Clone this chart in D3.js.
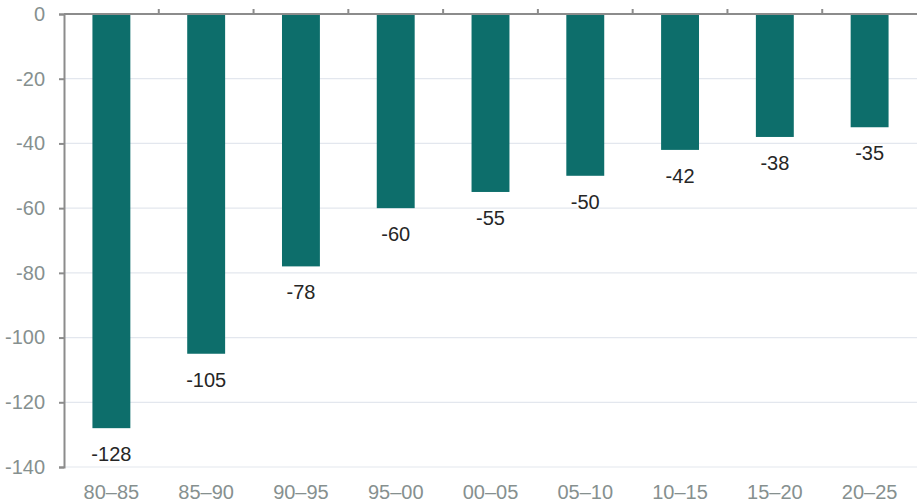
<!DOCTYPE html>
<html>
<head>
<meta charset="utf-8">
<script src="https://cdn.jsdelivr.net/npm/d3@7"></script>
<style>
  html, body { margin: 0; padding: 0; background: #fff; }
  svg { display: block; font-family: "Liberation Sans", Arial, sans-serif; }
</style>
</head>
<body>
<svg id="chart" width="917" height="503"></svg>
<script>
const periods = ["80–85", "85–90", "90–95", "95–00", "00–05", "05–10", "10–15", "15–20", "20–25"];
const values = [-128, -105, -78, -60, -55, -50, -42, -38, -35];
const yTicks = [0, -20, -40, -60, -80, -100, -120, -140];

const svg = d3.select("#chart");
const margin = { top: 14, right: 0, bottom: 36, left: 64 };
const width = 917, height = 503;
const fontSize = 20;

const x = d3.scaleBand()
  .domain(periods)
  .range([margin.left, width - margin.right])
  .paddingInner(0.6)
  .paddingOuter(0.3);

const y = d3.scaleLinear()
  .domain([0, -140])
  .range([margin.top, height - margin.bottom]);

// horizontal gridlines
svg.append("g")
  .selectAll("line")
  .data(yTicks.filter(d => d !== 0))
  .join("line")
  .attr("x1", margin.left)
  .attr("x2", width - margin.right)
  .attr("y1", d => y(d))
  .attr("y2", d => y(d))
  .attr("stroke", "#e3e7ee")
  .attr("stroke-width", 1.2);

// bars
svg.append("g")
  .selectAll("rect")
  .data(values)
  .join("rect")
  .attr("x", (d, i) => x(periods[i]))
  .attr("width", x.bandwidth())
  .attr("y", y(0))
  .attr("height", d => y(d) - y(0))
  .attr("fill", "#0d6e6b");

// value labels under each bar
svg.append("g")
  .selectAll("text")
  .data(values)
  .join("text")
  .attr("x", (d, i) => x(periods[i]) + x.bandwidth() / 2)
  .attr("y", d => y(d) + 33)
  .attr("text-anchor", "middle")
  .attr("font-size", fontSize)
  .attr("fill", "#262626")
  .text(d => String(d));

// y axis
const yAxis = d3.axisLeft(y)
  .tickValues(yTicks)
  .tickFormat(d => String(d))
  .tickSize(5)
  .tickPadding(14);
const gy = svg.append("g")
  .attr("transform", `translate(${margin.left},0)`)
  .call(yAxis);
gy.select(".domain").attr("stroke", "#8c8c8c").attr("stroke-width", 2);
gy.selectAll(".tick line").attr("stroke", "#8c8c8c").attr("stroke-width", 2);
gy.selectAll(".tick text")
  .attr("font-size", fontSize)
  .attr("fill", "#86908f")
  .attr("font-family", "Liberation Sans, Arial, sans-serif");

// category axis at the zero line, with separators between groups
const step = x.step();
const sepX = d3.range(1, periods.length).map(i => margin.left + i * step);
const gx = svg.append("g");
gx.append("line")
  .attr("x1", margin.left)
  .attr("x2", width - margin.right)
  .attr("y1", y(0))
  .attr("y2", y(0))
  .attr("stroke", "#8c8c8c")
  .attr("stroke-width", 2);
gx.selectAll("line.sep")
  .data(sepX)
  .join("line")
  .attr("class", "sep")
  .attr("x1", d => d)
  .attr("x2", d => d)
  .attr("y1", y(0))
  .attr("y2", y(0) - 5)
  .attr("stroke", "#8c8c8c")
  .attr("stroke-width", 2);

// category labels along the bottom
svg.append("g")
  .selectAll("text")
  .data(periods)
  .join("text")
  .attr("x", d => x(d) + x.bandwidth() / 2)
  .attr("y", height - 4)
  .attr("text-anchor", "middle")
  .attr("font-size", fontSize)
  .attr("fill", "#86908f")
  .text(d => d);
</script>
</body>
</html>
